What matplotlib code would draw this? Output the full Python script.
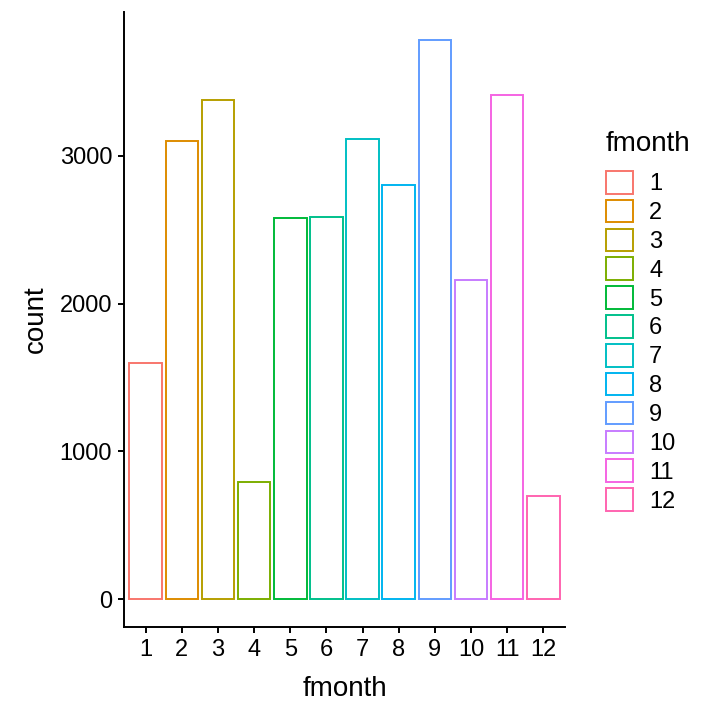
import matplotlib
matplotlib.use("Agg")
import matplotlib.pyplot as plt

plt.rcParams["font.family"] = ["Liberation Sans", "DejaVu Sans"]

# monthly counts
months = ["1", "2", "3", "4", "5", "6", "7", "8", "9", "10", "11", "12"]
counts = [1595, 3101, 3377, 795, 2579, 2587, 3114, 2805, 3784, 2161, 3410, 696]
colors = ["#F8766D", "#DE8C00", "#B79F00", "#7CAE00", "#00BA38", "#00C08B",
          "#00BFC4", "#00B4F0", "#619CFF", "#C77CFF", "#F564E3", "#FF64B0"]

fig = plt.figure(figsize=(7.2, 7.2), dpi=100)
ax = fig.add_axes([124 / 720, 93 / 720, 441 / 720, 615 / 720])

x = list(range(1, len(months) + 1))
bars = ax.bar(x, counts, width=0.9, facecolor="white", edgecolor=colors,
              linewidth=1.4)
for b, m in zip(bars, months):
    b.set_label(m)

ax.set_xlim(0.4, 12.6)
ax.set_ylim(-189, 3973)
ax.set_xticks(x)
ax.set_xticklabels(months)
ax.set_yticks([0, 1000, 2000, 3000])

for s in ["top", "right"]:
    ax.spines[s].set_visible(False)
for s in ["left", "bottom"]:
    ax.spines[s].set_linewidth(1.4)
ax.tick_params(axis="both", length=4.5, width=1.4, labelsize=17, pad=4)

ax.set_xlabel("fmonth", fontsize=20, labelpad=11)
ax.set_ylabel("count", fontsize=20, labelpad=8)

leg = fig.legend(handles=list(bars), title="fmonth", loc="upper left",
                 bbox_to_anchor=(606 / 720, 1 - 131 / 720), frameon=False,
                 fontsize=17, title_fontsize=20, handlelength=1.15,
                 handleheight=1.1, labelspacing=0.19, handletextpad=0.68,
                 borderpad=0, borderaxespad=0, alignment="left")
leg._legend_box.sep = 10

fig.savefig("out.png", dpi=100)
